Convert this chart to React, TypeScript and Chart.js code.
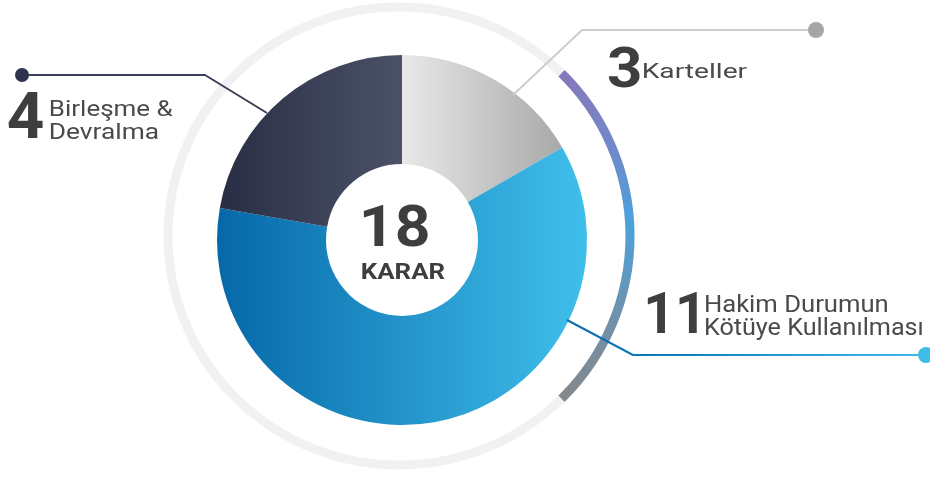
import React, { useEffect, useRef } from 'react';
import { Chart, registerables } from 'chart.js';

Chart.register(...registerables);

// ---- data ----
const CATEGORIES = ['Karteller', 'Hakim Durumun Kötüye Kullanılması', 'Birleşme & Devralma'];
const VALUES = [3, 11, 4];
const LABEL_LINES = [['Karteller'], ['Hakim Durumun', 'Kötüye Kullanılması'], ['Birleşme &', 'Devralma']];
const CENTER_CAPTION = 'KARAR';

const DIGIT_COLOR = '#403d3e';
const TEXT_COLOR = '#4a494b';

function fitBox(ctx: CanvasRenderingContext2D, text: string, font: string, x: number, top: number, w: number, h: number, color: string) {
  ctx.save();
  ctx.font = font;
  ctx.textAlign = 'left';
  ctx.textBaseline = 'alphabetic';
  const m = ctx.measureText(text);
  const tw = m.actualBoundingBoxLeft + m.actualBoundingBoxRight;
  const th = m.actualBoundingBoxAscent + m.actualBoundingBoxDescent;
  ctx.translate(x, top);
  ctx.scale(w / tw, h / th);
  ctx.fillStyle = color;
  ctx.fillText(text, m.actualBoundingBoxLeft, m.actualBoundingBoxAscent);
  ctx.restore();
}

function fitWidth(ctx: CanvasRenderingContext2D, text: string, font: string, x: number, baseline: number, w: number, color: string) {
  ctx.save();
  ctx.font = font;
  ctx.textAlign = 'left';
  ctx.textBaseline = 'alphabetic';
  const m = ctx.measureText(text);
  const tw = m.actualBoundingBoxLeft + m.actualBoundingBoxRight;
  ctx.translate(x, baseline);
  ctx.scale(w / tw, 1);
  ctx.fillStyle = color;
  ctx.fillText(text, m.actualBoundingBoxLeft, 0);
  ctx.restore();
}

function polyline(ctx: CanvasRenderingContext2D, pts: number[][], stroke: string | CanvasGradient, width: number) {
  ctx.save();
  ctx.beginPath();
  ctx.moveTo(pts[0][0], pts[0][1]);
  for (let i = 1; i < pts.length; i++) ctx.lineTo(pts[i][0], pts[i][1]);
  ctx.strokeStyle = stroke;
  ctx.lineWidth = width;
  ctx.lineJoin = 'round';
  ctx.stroke();
  ctx.restore();
}

function dot(ctx: CanvasRenderingContext2D, x: number, y: number, r: number, color: string) {
  ctx.save();
  ctx.beginPath();
  ctx.arc(x, y, r, 0, Math.PI * 2);
  ctx.fillStyle = color;
  ctx.fill();
  ctx.restore();
}

const ringPlugin = {
  id: 'ringPlugin',
  beforeDatasetsDraw(chart: any) {
    const ctx: CanvasRenderingContext2D = chart.ctx;
    ctx.save();
    ctx.beginPath();
    ctx.ellipse(399, 236, 231, 229, 0, 0, Math.PI * 2);
    ctx.strokeStyle = '#f1f1f3';
    ctx.lineWidth = 9;
    ctx.stroke();
    const g = ctx.createLinearGradient(0, 72, 0, 407);
    g.addColorStop(0, '#8678ba');
    g.addColorStop(0.25, '#6f8bcc');
    g.addColorStop(0.45, '#4aa2dc');
    g.addColorStop(0.7, '#6c93b0');
    g.addColorStop(1, '#878787');
    ctx.beginPath();
    ctx.ellipse(399, 236, 231, 229, 0, -0.79, 0.79);
    ctx.strokeStyle = g;
    ctx.lineWidth = 9;
    ctx.stroke();
    ctx.restore();
  },
  afterDatasetsDraw(chart: any) {
    const ctx: CanvasRenderingContext2D = chart.ctx;
    // leader lines
    polyline(ctx, [[22, 75], [205, 75], [267, 113]], '#3a3f57', 2);
    dot(ctx, 22, 75, 7, '#2e3350');

    polyline(ctx, [[816, 30], [582, 30], [513, 95]], '#cdcdcd', 2);
    dot(ctx, 816, 30, 8, '#a6a6a6');

    const hg = ctx.createLinearGradient(567, 0, 926, 0);
    hg.addColorStop(0, '#0a6dae');
    hg.addColorStop(0.3, '#0f7cbd');
    hg.addColorStop(1, '#3ebde9');
    polyline(ctx, [[567, 320], [633, 355], [926, 355]], hg, 2);
    dot(ctx, 926, 355, 8, '#3ebde9');

    // center text
    const total = VALUES.reduce((a, b) => a + b, 0);
    fitBox(ctx, String(total), 'bold 60px Roboto', 363, 205, 65, 42, DIGIT_COLOR);
    fitBox(ctx, CENTER_CAPTION, 'bold 22px Roboto', 362, 263, 83, 16, DIGIT_COLOR);

    // labels: Karteller
    fitBox(ctx, String(VALUES[0]), 'bold 58px Roboto', 608, 47, 32, 41, DIGIT_COLOR);
    fitWidth(ctx, LABEL_LINES[0][0], '21px Roboto', 643, 78, 104, TEXT_COLOR);

    // Hakim
    fitBox(ctx, String(VALUES[1]), 'bold 58px Roboto', 647, 293, 50, 40, DIGIT_COLOR);
    fitWidth(ctx, LABEL_LINES[1][0], '23px Roboto', 705, 312, 183, TEXT_COLOR);
    fitWidth(ctx, LABEL_LINES[1][1], '23px Roboto', 705, 335, 217, TEXT_COLOR);

    // Birleşme
    fitBox(ctx, String(VALUES[2]), 'bold 58px Roboto', 8, 92, 35, 46, DIGIT_COLOR);
    fitWidth(ctx, LABEL_LINES[2][0], '22px Roboto', 50, 116, 123, TEXT_COLOR);
    fitWidth(ctx, LABEL_LINES[2][1], '22px Roboto', 50, 139, 108, TEXT_COLOR);
  },
};

function sliceColor(context: any) {
  const chart = context.chart;
  const area = chart.chartArea;
  const i = context.dataIndex;
  const fallback = ['#c8c8c8', '#1f95d0', '#3a4058'][i];
  if (!area) return fallback;
  const c: CanvasRenderingContext2D = chart.ctx;
  const cx = (area.left + area.right) / 2;
  const r = Math.min(area.right - area.left, area.bottom - area.top) / 2;
  if (i === 0) {
    const g = c.createLinearGradient(cx, 0, cx + r * 0.87, 0);
    g.addColorStop(0, '#e9e9e9');
    g.addColorStop(1, '#a8a8a8');
    return g;
  }
  if (i === 1) {
    const g = c.createLinearGradient(cx - r, 0, cx + r, 0);
    g.addColorStop(0, '#0668a9');
    g.addColorStop(1, '#40bfeb');
    return g;
  }
  const g = c.createLinearGradient(cx - r, 0, cx, 0);
  g.addColorStop(0, '#282d44');
  g.addColorStop(1, '#4b5267');
  return g;
}

export default function App() {
  const ref = useRef<HTMLCanvasElement | null>(null);
  useEffect(() => {
    if (!ref.current) return;
    const chart = new Chart(ref.current, {
      type: 'doughnut',
      data: {
        labels: CATEGORIES,
        datasets: [
          {
            data: VALUES,
            backgroundColor: sliceColor as any,
            borderWidth: 0,
          },
        ],
      },
      options: {
        responsive: false,
        animation: false,
        cutout: 76,
        layout: { padding: { left: 217, right: 343, top: 55, bottom: 56 } },
        plugins: { legend: { display: false }, tooltip: { enabled: false } },
      },
      plugins: [ringPlugin],
    });
    return () => chart.destroy();
  }, []);
  return (
    <div style={{ position: 'fixed', left: 0, top: 0, width: 930, height: 481, background: '#fff' }}>
      <canvas ref={ref} width={930} height={481} />
    </div>
  );
}
